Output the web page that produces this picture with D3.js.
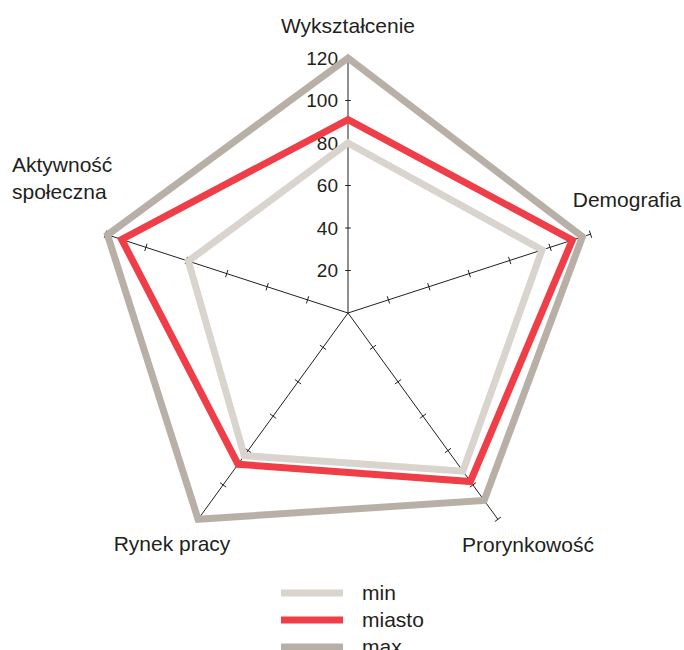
<!DOCTYPE html>
<meta charset="utf-8">
<head>
<script src="https://cdn.jsdelivr.net/npm/d3@7"></script>
<style>
body { margin: 0; background: #fff; }
text { font-family: "Liberation Sans", Arial, sans-serif; fill: #231f20; }
</style>
</head>
<body>
<script>
// Axes (clockwise from top)
const axes = ["Wykształcenie", "Demografia", "Prorynkowość", "Rynek pracy", "Aktywność społeczna"];
const seriesNames = ["max", "min", "miasto"];
const maxValues = [120, 116, 109, 120, 119];
const minValues = [80, 96, 92, 83, 79];
const miastoValues = [91, 111, 98, 88, 112];
const tickValues = [20, 40, 60, 80, 100, 120];

const colors = {min: "#d9d4cd", miasto: "#ef3e48", max: "#b8b0a6"};
const values = {min: minValues, miasto: miastoValues, max: maxValues};

const width = 684, height = 650;
const cx = 348, cy = 313;

const svg = d3.select("body").append("svg")
    .attr("width", width)
    .attr("height", height);

const r = d3.scaleLinear().domain([0, 120]).range([0, 255]);
const angle = i => i * 2 * Math.PI / axes.length;
const pt = (i, v) => [cx + r(v) * Math.sin(angle(i)), cy - r(v) * Math.cos(angle(i))];

// axis lines
const axisG = svg.append("g");
axes.forEach((a, i) => {
    const end = pt(i, 120);
    axisG.append("line")
        .attr("x1", cx).attr("y1", cy)
        .attr("x2", end[0]).attr("y2", end[1])
        .attr("stroke", "#231f20").attr("stroke-width", 1);
    const len = i === 0 ? 2.8 : 3.8;
    tickValues.forEach(t => {
        const p = pt(i, t);
        const px = Math.cos(angle(i)), py = Math.sin(angle(i));
        axisG.append("line")
            .attr("x1", p[0] - px * len).attr("y1", p[1] - py * len)
            .attr("x2", p[0] + px * len).attr("y2", p[1] + py * len)
            .attr("stroke", "#231f20").attr("stroke-width", 1);
    });
});

// tick labels on the top axis
svg.append("g").selectAll("text")
    .data(tickValues)
    .join("text")
    .attr("x", cx - 10)
    .attr("y", d => cy - r(d))
    .attr("dy", "0.36em")
    .attr("text-anchor", "end")
    .attr("font-size", 19)
    .text(d => d);

// series polygons
const line = d3.line();
seriesNames.forEach(s => {
    const pts = values[s].map((v, i) => pt(i, v));
    svg.append("path")
        .attr("d", line(pts) + "Z")
        .attr("fill", "none")
        .attr("stroke", colors[s])
        .attr("stroke-width", 7)
        .attr("stroke-linejoin", "miter");
});

// axis labels
const labels = [
    {lines: ["Wykształcenie"], x: 348, y: 33, anchor: "middle"},
    {lines: ["Demografia"], x: 627, y: 207, anchor: "middle"},
    {lines: ["Prorynkowość"], x: 528, y: 552, anchor: "middle"},
    {lines: ["Rynek pracy"], x: 172, y: 551, anchor: "middle"},
    {lines: ["Aktywność", "społeczna"], x: 12, y: 172, anchor: "start"}
];
labels.forEach(l => {
    const t = svg.append("text")
        .attr("x", l.x).attr("y", l.y)
        .attr("text-anchor", l.anchor)
        .attr("font-size", 21);
    l.lines.forEach((s, k) => {
        t.append("tspan").attr("x", l.x).attr("dy", k === 0 ? 0 : 27).text(s);
    });
});

// legend
const legendNames = ["min", "miasto", "max"];
const legend = svg.append("g");
legendNames.forEach((s, k) => {
    const y = 593 + k * 27;
    legend.append("line")
        .attr("x1", 281).attr("x2", 343)
        .attr("y1", y).attr("y2", y)
        .attr("stroke", colors[s]).attr("stroke-width", 7);
    legend.append("text")
        .attr("x", 362).attr("y", y + 7)
        .attr("font-size", 21)
        .text(s);
});
</script>
</body>
